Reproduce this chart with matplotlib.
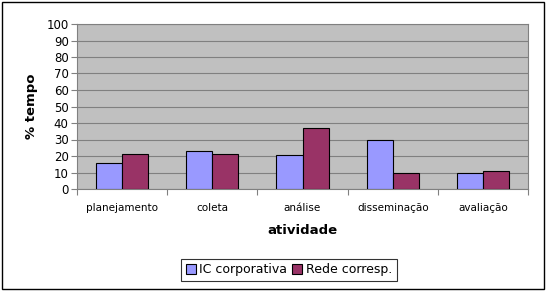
import matplotlib
matplotlib.use("Agg")
import matplotlib.pyplot as plt
import numpy as np
from matplotlib.patches import Rectangle

categorias = ["planejamento", "coleta", "análise", "disseminação", "avaliação"]
ic_corporativa = [16, 23, 20.5, 30, 10]
rede_corresp = [21, 21, 37, 10, 11]

fig = plt.figure(figsize=(5.46, 2.91), dpi=100)
ax = fig.add_axes([77/546, 1-189/291, (528-77)/546, (189-24)/291])
ax.set_facecolor("#C0C0C0")

x = np.arange(len(categorias))
w = 0.29
ax.bar(x - w/2, ic_corporativa, w, color="#9999FF", edgecolor="black", linewidth=0.8,
       label="IC corporativa", zorder=3)
ax.bar(x + w/2, rede_corresp, w, color="#993366", edgecolor="black", linewidth=0.8,
       label="Rede corresp.", zorder=3)

ax.set_xlim(-0.5, len(categorias) - 0.5)
ax.set_ylim(0, 100)
ax.set_yticks(range(0, 101, 10))
ax.yaxis.grid(True, color="#808080", linewidth=0.8, zorder=1)
ax.set_xticks(np.arange(-0.5, len(categorias), 1), minor=False)
ax.set_xticklabels([])
ax.set_xticks(x, minor=True)
ax.set_xticklabels(categorias, minor=True, fontsize=7.5)
ax.tick_params(axis="x", which="minor", length=0, pad=10)
ax.tick_params(axis="x", which="major", length=4, direction="out", color="#808080")
ax.tick_params(axis="y", length=4, labelsize=8.5, pad=2, color="#808080")

for s in ["top", "right", "left", "bottom"]:
    ax.spines[s].set_color("#808080")

ax.set_xlabel("atividade", fontsize=9.5, fontweight="bold", labelpad=8)
ax.set_ylabel("% tempo", fontsize=9.5, fontweight="bold", labelpad=6)

leg = fig.legend(loc="center", bbox_to_anchor=(289/546, 1-270/291), ncol=2, fontsize=9,
                 frameon=True, fancybox=False, edgecolor="black", handlelength=0.8,
                 handleheight=0.8, handletextpad=0.3, columnspacing=0.4, borderpad=0.35)
leg.get_frame().set_linewidth(0.8)

fig.patches.append(Rectangle((2/546, 2/291), 542/546, 287/291, transform=fig.transFigure,
                             fill=False, edgecolor="black", linewidth=1))

fig.savefig("out.png", dpi=100)
